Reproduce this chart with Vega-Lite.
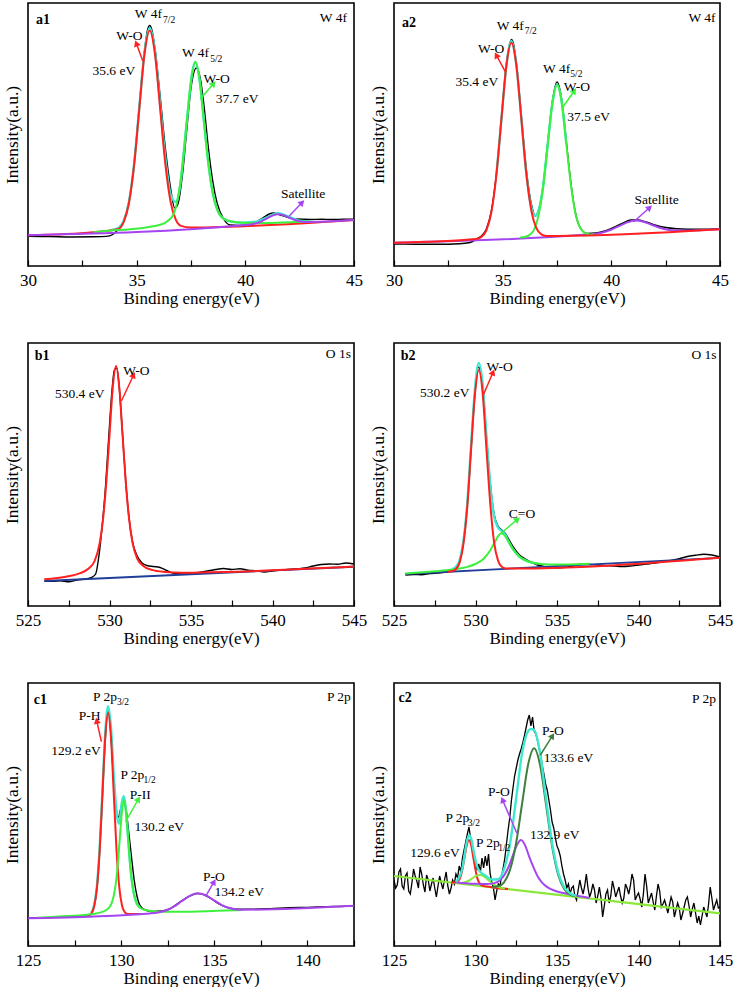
{
"$schema":"https://vega.github.io/schema/vega-lite/v6.json",
"background":"white",
"padding":{"left":2,"top":2,"right":0,"bottom":0},
"config":{
 "font":"'Liberation Serif', 'Times New Roman', Times, serif",
 "view":{"stroke":"#000000","strokeWidth":1.6},
 "axis":{"grid":false,"domain":false,"labelFont":"'Liberation Serif', 'Times New Roman', Times, serif","titleFont":"'Liberation Serif', 'Times New Roman', Times, serif","labelFontSize":17,"titleFontSize":17,"titleFontWeight":"normal","labelColor":"#000000","titleColor":"#000000","tickColor":"#000000"},
 "axisX":{"tickSize":-6,"tickWidth":1.2,"labelPadding":12,"labelFlush":false,"labelOverlap":false,"labelBound":false,"titlePadding":2},
 "axisY":{"labels":false,"ticks":false,"titlePadding":7,"titleFontSize":17.5},
 "text":{"font":"'Liberation Serif', 'Times New Roman', Times, serif","fontSize":13.5,"color":"#000000"}
},
"datasets":{
"a1k":[{"x":30,"y":29.6},{"x":31,"y":29.4},{"x":32,"y":29.0},{"x":33,"y":29.2},{"x":33.6,"y":29.6},{"x":33.9,"y":31.5},{"x":34.16,"y":37},{"x":34.4,"y":45},{"x":34.64,"y":64},{"x":34.88,"y":102},{"x":35.12,"y":160},{"x":35.36,"y":215},{"x":35.5,"y":236},{"x":35.6,"y":240.5},{"x":35.7,"y":236},{"x":35.84,"y":218},{"x":36.08,"y":170},{"x":36.32,"y":118},{"x":36.56,"y":78},{"x":36.75,"y":58},{"x":36.9,"y":62},{"x":37.1,"y":90},{"x":37.3,"y":135},{"x":37.5,"y":178},{"x":37.75,"y":198},{"x":37.95,"y":185},{"x":38.1,"y":160},{"x":38.3,"y":118},{"x":38.5,"y":85},{"x":38.7,"y":63},{"x":39.0,"y":47},{"x":39.3,"y":41},{"x":39.7,"y":40.5},{"x":40.2,"y":41},{"x":40.5,"y":44},{"x":40.8,"y":48},{"x":41.1,"y":52},{"x":41.3,"y":53},{"x":41.6,"y":51},{"x":41.9,"y":49},{"x":42.3,"y":47},{"x":43,"y":46.5},{"x":43.5,"y":46.8},{"x":44,"y":46.5},{"x":44.5,"y":46.8},{"x":45,"y":46.9}],
"a1c":[{"x":33.8,"y":35.7},{"x":34.16,"y":38.1},{"x":34.4,"y":45.0},{"x":34.64,"y":63.6},{"x":34.88,"y":101.8},{"x":35.12,"y":158.4},{"x":35.36,"y":214.0},{"x":35.6,"y":238.1},{"x":35.84,"y":215.7},{"x":36.08,"y":162.1},{"x":36.32,"y":108.1},{"x":36.56,"y":72},{"x":36.8,"y":64},{"x":37.0,"y":80},{"x":37.2,"y":121.3},{"x":37.4,"y":165.0},{"x":37.55,"y":192.8},{"x":37.7,"y":204.1},{"x":37.9,"y":185.3},{"x":38.1,"y":143.6},{"x":38.3,"y":102.3},{"x":38.5,"y":73.0},{"x":38.7,"y":56.8},{"x":39.0,"y":47.3},{"x":39.4,"y":44.3},{"x":39.9,"y":43.4},{"x":40.5,"y":44.2},{"x":41.0,"y":48.7},{"x":41.5,"y":52.7},{"x":42.0,"y":49.3},{"x":42.5,"y":45.4},{"x":43.0,"y":44.7}],
"a1r":[{"x":30,"y":30.7},{"x":33.0,"y":33.76},{"x":34.16,"y":37.1},{"x":34.4,"y":43.9},{"x":34.64,"y":62.3},{"x":34.88,"y":100.3},{"x":35.12,"y":156.6},{"x":35.36,"y":211.8},{"x":35.6,"y":235.4},{"x":35.84,"y":212.3},{"x":36.08,"y":157.6},{"x":36.32,"y":101.8},{"x":36.56,"y":64.3},{"x":36.8,"y":46.3},{"x":37.04,"y":40.1},{"x":37.5,"y":38.5},{"x":45,"y":46.0}],
"a1g":[{"x":33.0,"y":33.8},{"x":33.7,"y":35.3},{"x":34.7,"y":36.8},{"x":35.5,"y":38.8},{"x":36.0,"y":40.8},{"x":36.4,"y":44.6},{"x":36.7,"y":52},{"x":36.9,"y":68},{"x":37.1,"y":99},{"x":37.3,"y":142.8},{"x":37.5,"y":184.8},{"x":37.7,"y":204.1},{"x":37.9,"y":185.3},{"x":38.1,"y":143.6},{"x":38.3,"y":102.3},{"x":38.5,"y":73.0},{"x":38.7,"y":56.8},{"x":39.0,"y":47.3},{"x":39.4,"y":44.3},{"x":39.9,"y":43.3},{"x":40.7,"y":42.9},{"x":41.7,"y":43.4},{"x":43.0,"y":44.4}],
"a1m":[{"x":30,"y":30.7},{"x":40.0,"y":41.0},{"x":40.25,"y":41.6},{"x":40.5,"y":42.7},{"x":40.75,"y":44.7},{"x":41.0,"y":47.6},{"x":41.25,"y":50.4},{"x":41.5,"y":51.7},{"x":41.75,"y":50.9},{"x":42.0,"y":48.5},{"x":42.25,"y":46.2},{"x":42.5,"y":44.7},{"x":42.75,"y":44.1},{"x":43.0,"y":44.1},{"x":45,"y":46.0}],
"a2k":[{"x":30,"y":22.0},{"x":31,"y":21.8},{"x":32,"y":21.7},{"x":33,"y":22.2},{"x":33.5,"y":23.5},{"x":33.8,"y":27},{"x":34.02,"y":30},{"x":34.25,"y":37},{"x":34.48,"y":55},{"x":34.71,"y":92},{"x":34.94,"y":147},{"x":35.17,"y":202},{"x":35.3,"y":220},{"x":35.4,"y":226.5},{"x":35.5,"y":222},{"x":35.63,"y":203},{"x":35.86,"y":150},{"x":36.09,"y":96},{"x":36.32,"y":62},{"x":36.5,"y":50},{"x":36.64,"y":55},{"x":36.86,"y":80},{"x":37.07,"y":122},{"x":37.29,"y":165},{"x":37.5,"y":184},{"x":37.72,"y":166},{"x":37.93,"y":124},{"x":38.15,"y":81},{"x":38.36,"y":52},{"x":38.58,"y":38},{"x":38.9,"y":32.5},{"x":39.3,"y":33},{"x":39.7,"y":35},{"x":40.1,"y":38.5},{"x":40.5,"y":42.5},{"x":40.9,"y":46},{"x":41.2,"y":46},{"x":41.6,"y":44},{"x":42.0,"y":41},{"x":42.5,"y":38.5},{"x":43.0,"y":37.3},{"x":43.5,"y":36.8},{"x":44,"y":36.7},{"x":44.5,"y":36.9},{"x":45,"y":37.2}],
"a2c":[{"x":34.71,"y":91},{"x":34.94,"y":146.1},{"x":35.17,"y":200.2},{"x":35.4,"y":225},{"x":35.63,"y":201},{"x":35.86,"y":147.3},{"x":36.09,"y":92.4},{"x":36.32,"y":58.8},{"x":36.5,"y":50.4},{"x":36.64,"y":54.7},{"x":36.86,"y":79.7},{"x":37.07,"y":121},{"x":37.29,"y":163.1},{"x":37.5,"y":181.5},{"x":37.72,"y":163.5},{"x":37.93,"y":122}],
"a2r":[{"x":30,"y":23.3},{"x":33.79,"y":27.1},{"x":34.02,"y":29.1},{"x":34.25,"y":35.7},{"x":34.48,"y":53.7},{"x":34.71,"y":90.9},{"x":34.94,"y":146.1},{"x":35.17,"y":200.2},{"x":35.4,"y":223.3},{"x":35.63,"y":200.6},{"x":35.86,"y":147.0},{"x":36.09,"y":92.1},{"x":36.32,"y":55.3},{"x":36.55,"y":37.8},{"x":36.78,"y":31.6},{"x":37.01,"y":30.0},{"x":37.5,"y":30.0},{"x":45,"y":36.7}],
"a2g":[{"x":35.8,"y":28.5},{"x":36.0,"y":29.0},{"x":36.21,"y":30.6},{"x":36.43,"y":35.6},{"x":36.64,"y":49.6},{"x":36.86,"y":78.4},{"x":37.07,"y":120.7},{"x":37.29,"y":163.1},{"x":37.5,"y":181.0},{"x":37.72,"y":163.5},{"x":37.93,"y":122.0},{"x":38.15,"y":79.6},{"x":38.36,"y":51.2},{"x":38.58,"y":37.6},{"x":38.79,"y":32.9},{"x":39.0,"y":31.6},{"x":39.2,"y":31.5}],
"a2m":[{"x":30,"y":23.3},{"x":38.85,"y":31.4},{"x":39.23,"y":32.1},{"x":39.6,"y":33.5},{"x":39.98,"y":36.2},{"x":40.35,"y":39.9},{"x":40.73,"y":43.6},{"x":41.1,"y":45.4},{"x":41.48,"y":44.3},{"x":41.85,"y":41.3},{"x":42.23,"y":38.2},{"x":42.6,"y":36.2},{"x":42.98,"y":35.5},{"x":43.35,"y":35.4},{"x":45,"y":36.7}],
"b1k":[{"x":526,"y":25.0},{"x":526.5,"y":24.6},{"x":527,"y":25.3},{"x":527.5,"y":24.2},{"x":528,"y":26.0},{"x":528.5,"y":27.0},{"x":528.9,"y":28.5},{"x":529.15,"y":32},{"x":529.35,"y":50},{"x":529.55,"y":80},{"x":529.75,"y":118},{"x":529.95,"y":168},{"x":530.15,"y":215},{"x":530.3,"y":236},{"x":530.45,"y":238},{"x":530.6,"y":218},{"x":530.8,"y":172},{"x":531.0,"y":124},{"x":531.2,"y":88},{"x":531.4,"y":65},{"x":531.7,"y":50},{"x":532.0,"y":43},{"x":532.3,"y":40.5},{"x":532.7,"y":39.5},{"x":533.1,"y":38.5},{"x":533.5,"y":35.5},{"x":534.0,"y":32.5},{"x":534.5,"y":32.0},{"x":535.0,"y":32.5},{"x":535.5,"y":33.5},{"x":536.0,"y":35},{"x":536.5,"y":36.5},{"x":537.0,"y":37.5},{"x":537.5,"y":36.5},{"x":538.0,"y":37.2},{"x":538.5,"y":35.8},{"x":539.0,"y":35.2},{"x":539.5,"y":34.0},{"x":540.0,"y":35.0},{"x":540.5,"y":36.0},{"x":541.0,"y":36.5},{"x":541.5,"y":37.2},{"x":542.0,"y":38.0},{"x":542.5,"y":40.0},{"x":543.0,"y":41.5},{"x":543.5,"y":42.0},{"x":544.0,"y":41.8},{"x":544.5,"y":43.0},{"x":545.0,"y":42.0}],
"b1b":[{"x":526,"y":25.0},{"x":545,"y":39.25}],
"b1r":[{"x":526.0,"y":26.7},{"x":527.4,"y":29.5},{"x":528.2,"y":32.8},{"x":528.7,"y":37.2},{"x":529.1,"y":45.5},{"x":529.4,"y":63.0},{"x":529.6,"y":86.1},{"x":529.8,"y":122.5},{"x":530.0,"y":170.5},{"x":530.2,"y":218.3},{"x":530.4,"y":240.0},{"x":530.6,"y":218.6},{"x":530.8,"y":171.1},{"x":531.0,"y":123.4},{"x":531.2,"y":87.3},{"x":531.4,"y":64.5},{"x":531.7,"y":47.5},{"x":532.1,"y":39.8},{"x":532.6,"y":36.1},{"x":533.4,"y":34.0},{"x":534.4,"y":33.2},{"x":535.4,"y":33.4},{"x":537,"y":33.9},{"x":540,"y":35.8},{"x":543,"y":38.0},{"x":545,"y":39.4}],
"b2k":[{"x":525.7,"y":31},{"x":526.2,"y":31.5},{"x":526.7,"y":31.2},{"x":527.2,"y":32.5},{"x":527.7,"y":33},{"x":528.2,"y":34},{"x":528.6,"y":35.5},{"x":528.8,"y":38},{"x":529.03,"y":45},{"x":529.26,"y":64},{"x":529.5,"y":102},{"x":529.73,"y":158},{"x":529.97,"y":214},{"x":530.15,"y":239},{"x":530.3,"y":236},{"x":530.44,"y":220},{"x":530.67,"y":170},{"x":530.91,"y":122},{"x":531.14,"y":92},{"x":531.38,"y":80},{"x":531.61,"y":76},{"x":531.85,"y":72},{"x":532.1,"y":65},{"x":532.4,"y":57},{"x":532.7,"y":51},{"x":533.0,"y":47.5},{"x":533.4,"y":44},{"x":533.8,"y":41},{"x":534.2,"y":39.5},{"x":534.6,"y":38.5},{"x":535.0,"y":38.3},{"x":535.5,"y":38.8},{"x":536.0,"y":40.0},{"x":536.5,"y":42},{"x":537.0,"y":41.5},{"x":537.5,"y":41},{"x":538.0,"y":40.3},{"x":538.5,"y":40},{"x":539.0,"y":39.5},{"x":539.5,"y":40},{"x":540.0,"y":41},{"x":540.5,"y":42},{"x":541.0,"y":43},{"x":541.5,"y":44.3},{"x":542.0,"y":45.5},{"x":542.5,"y":47.3},{"x":543.0,"y":49.5},{"x":543.5,"y":50.7},{"x":544.0,"y":51.7},{"x":544.5,"y":51},{"x":545.0,"y":49}],
"b2c":[{"x":528.56,"y":36.8},{"x":528.79,"y":39.1},{"x":529.03,"y":46.2},{"x":529.26,"y":65.1},{"x":529.5,"y":103.8},{"x":529.73,"y":161.1},{"x":529.97,"y":217.7},{"x":530.2,"y":243.0},{"x":530.44,"y":221.9},{"x":530.67,"y":170.5},{"x":530.91,"y":120.5},{"x":531.14,"y":89.7},{"x":531.38,"y":78.5},{"x":531.61,"y":74.9},{"x":531.85,"y":70.6},{"x":532.0,"y":65.5},{"x":532.3,"y":56.8},{"x":532.7,"y":49.2},{"x":533.2,"y":44.7},{"x":533.8,"y":42.5}],
"b2b":[{"x":525.7,"y":32},{"x":545,"y":48.2}],
"b2g":[{"x":525.7,"y":32.6},{"x":527.5,"y":34.7},{"x":528.6,"y":36.5},{"x":529.4,"y":38.8},{"x":530.0,"y":42.0},{"x":530.5,"y":47.3},{"x":530.9,"y":55.5},{"x":531.2,"y":64.4},{"x":531.4,"y":70.1},{"x":531.6,"y":72.7},{"x":531.8,"y":70.4},{"x":532.0,"y":65.1},{"x":532.3,"y":56.7},{"x":532.7,"y":49.2},{"x":533.2,"y":44.7},{"x":533.8,"y":42.5},{"x":534.6,"y":41.6},{"x":535.7,"y":41.6},{"x":537.0,"y":42.2}],
"b2r":[{"x":528.3,"y":34.2},{"x":528.56,"y":34.8},{"x":528.79,"y":36.8},{"x":529.03,"y":43.6},{"x":529.26,"y":62.1},{"x":529.5,"y":100.2},{"x":529.73,"y":156.8},{"x":529.97,"y":212.3},{"x":530.2,"y":236.0},{"x":530.44,"y":212.7},{"x":530.67,"y":157.6},{"x":530.91,"y":101.4},{"x":531.14,"y":63.7},{"x":531.38,"y":45.6},{"x":531.61,"y":39.2},{"x":531.85,"y":37.6},{"x":532.2,"y":37.4},{"x":545,"y":48.2}],
"c1k":[{"x":125,"y":27.8},{"x":126,"y":28.4},{"x":127,"y":29.2},{"x":128,"y":30.0},{"x":128.3,"y":31},{"x":128.5,"y":37},{"x":128.7,"y":58},{"x":128.85,"y":96},{"x":129.0,"y":152},{"x":129.15,"y":208},{"x":129.3,"y":236},{"x":129.45,"y":212},{"x":129.6,"y":165},{"x":129.75,"y":135},{"x":129.85,"y":129},{"x":130.0,"y":139},{"x":130.1,"y":144},{"x":130.25,"y":138},{"x":130.4,"y":115},{"x":130.55,"y":90},{"x":130.7,"y":66},{"x":130.85,"y":50},{"x":131.0,"y":41},{"x":131.3,"y":36},{"x":131.7,"y":34.5},{"x":132.2,"y":35},{"x":132.6,"y":37},{"x":133.0,"y":42},{"x":133.4,"y":47},{"x":133.8,"y":51},{"x":134.1,"y":52.5},{"x":134.5,"y":51},{"x":134.9,"y":46.5},{"x":135.3,"y":41.5},{"x":135.8,"y":38},{"x":136.3,"y":36.8},{"x":137,"y":36.8},{"x":138,"y":37.3},{"x":139,"y":38.2},{"x":140,"y":38.6},{"x":141,"y":39.3},{"x":142,"y":39.8},{"x":142.5,"y":40.2}],
"c1c":[{"x":128.4,"y":33.9},{"x":128.55,"y":41.1},{"x":128.7,"y":60.1},{"x":128.85,"y":99.3},{"x":129.0,"y":157.1},{"x":129.15,"y":214.1},{"x":129.3,"y":239.9},{"x":129.45,"y":219.8},{"x":129.6,"y":172.5},{"x":129.75,"y":134.3},{"x":129.88,"y":122},{"x":130.05,"y":144.8},{"x":130.15,"y":149.7},{"x":130.25,"y":137.6},{"x":130.35,"y":113.8},{"x":130.45,"y":88.9},{"x":130.55,"y":69.1},{"x":130.65,"y":55.4},{"x":130.8,"y":44.2},{"x":131.0,"y":38.6}],
"c1r":[{"x":127.8,"y":29.7},{"x":128.25,"y":30.5},{"x":128.4,"y":32.4},{"x":128.55,"y":39.2},{"x":128.7,"y":57.8},{"x":128.85,"y":96.3},{"x":129.0,"y":153.4},{"x":129.15,"y":209.4},{"x":129.3,"y":233.3},{"x":129.45,"y":209.6},{"x":129.6,"y":153.8},{"x":129.75,"y":96.9},{"x":129.9,"y":58.6},{"x":130.05,"y":40.2},{"x":130.2,"y":33.6},{"x":130.35,"y":32.0},{"x":131.0,"y":32.0}],
"c1g":[{"x":125.5,"y":28.3},{"x":127.15,"y":29.9},{"x":128.35,"y":31.7},{"x":128.95,"y":33.9},{"x":129.3,"y":37.4},{"x":129.5,"y":43.2},{"x":129.65,"y":54.6},{"x":129.75,"y":68.5},{"x":129.85,"y":88.5},{"x":129.95,"y":113.1},{"x":130.05,"y":135.9},{"x":130.15,"y":146.0},{"x":130.25,"y":136.1},{"x":130.35,"y":113.4},{"x":130.45,"y":88.9},{"x":130.55,"y":69.1},{"x":130.65,"y":55.4},{"x":130.8,"y":44.2},{"x":131.0,"y":38.6},{"x":131.35,"y":35.7},{"x":131.95,"y":34.3},{"x":133.15,"y":34.2},{"x":135.15,"y":35.2},{"x":136.5,"y":36.0}],
"c1m":[{"x":125,"y":27.7},{"x":131.55,"y":32.6},{"x":131.98,"y":33.5},{"x":132.4,"y":35.5},{"x":132.83,"y":39.3},{"x":133.25,"y":44.8},{"x":133.68,"y":50.1},{"x":134.1,"y":52.7},{"x":134.53,"y":50.8},{"x":134.95,"y":46.1},{"x":135.38,"y":41.2},{"x":135.8,"y":38.0},{"x":136.23,"y":36.6},{"x":136.65,"y":36.3},{"x":142.5,"y":40.3}],
"c2k":[{"x":125.0,"y":66},{"x":125.1,"y":58},{"x":125.2,"y":61},{"x":125.3,"y":74},{"x":125.4,"y":77},{"x":125.5,"y":60},{"x":125.6,"y":57},{"x":125.7,"y":70},{"x":125.8,"y":73},{"x":125.9,"y":55},{"x":126.0,"y":52},{"x":126.1,"y":63},{"x":126.2,"y":77},{"x":126.3,"y":70},{"x":126.4,"y":65},{"x":126.5,"y":58},{"x":126.6,"y":79},{"x":126.7,"y":72},{"x":126.8,"y":61},{"x":126.9,"y":54},{"x":127.0,"y":71},{"x":127.1,"y":66},{"x":127.2,"y":55},{"x":127.3,"y":62},{"x":127.4,"y":68},{"x":127.5,"y":58},{"x":127.6,"y":49},{"x":127.7,"y":60},{"x":127.8,"y":70},{"x":127.9,"y":63},{"x":128.0,"y":57},{"x":128.1,"y":66},{"x":128.2,"y":74},{"x":128.3,"y":60},{"x":128.4,"y":52},{"x":128.5,"y":58},{"x":128.6,"y":66},{"x":128.7,"y":62},{"x":128.8,"y":72},{"x":128.9,"y":68},{"x":129.0,"y":80},{"x":129.1,"y":74},{"x":129.2,"y":88},{"x":129.3,"y":96},{"x":129.4,"y":104},{"x":129.5,"y":112},{"x":129.6,"y":119},{"x":129.7,"y":108},{"x":129.8,"y":100},{"x":129.9,"y":92},{"x":130.0,"y":84},{"x":130.1,"y":76},{"x":130.2,"y":82},{"x":130.3,"y":74},{"x":130.4,"y":88},{"x":130.5,"y":78},{"x":130.6,"y":90},{"x":130.7,"y":80},{"x":130.8,"y":92},{"x":130.9,"y":72},{"x":131.0,"y":64},{"x":131.1,"y":58},{"x":131.2,"y":46},{"x":131.3,"y":55},{"x":131.4,"y":62},{"x":131.5,"y":60},{"x":131.6,"y":70},{"x":131.7,"y":78},{"x":131.8,"y":88},{"x":131.9,"y":102},{"x":132.0,"y":116},{"x":132.1,"y":128},{"x":132.2,"y":145},{"x":132.3,"y":158},{"x":132.4,"y":170},{"x":132.5,"y":178},{"x":132.6,"y":186},{"x":132.7,"y":192},{"x":132.8,"y":197},{"x":132.9,"y":203},{"x":133.0,"y":210},{"x":133.1,"y":218},{"x":133.2,"y":226},{"x":133.3,"y":231},{"x":133.4,"y":220},{"x":133.5,"y":229},{"x":133.6,"y":215},{"x":133.7,"y":212},{"x":133.8,"y":206},{"x":133.9,"y":198},{"x":134.0,"y":190},{"x":134.1,"y":180},{"x":134.2,"y":172},{"x":134.3,"y":162},{"x":134.4,"y":156},{"x":134.5,"y":146},{"x":134.6,"y":136},{"x":134.7,"y":124},{"x":134.8,"y":118},{"x":134.9,"y":108},{"x":135.0,"y":100},{"x":135.1,"y":96},{"x":135.2,"y":90},{"x":135.3,"y":80},{"x":135.4,"y":72},{"x":135.5,"y":66},{"x":135.6,"y":58},{"x":135.7,"y":62},{"x":135.8,"y":52},{"x":135.9,"y":58},{"x":136.0,"y":60},{"x":136.1,"y":50},{"x":136.2,"y":46},{"x":136.3,"y":56},{"x":136.4,"y":66},{"x":136.5,"y":58},{"x":136.6,"y":52},{"x":136.7,"y":60},{"x":136.8,"y":72},{"x":136.9,"y":58},{"x":137.0,"y":49},{"x":137.1,"y":54},{"x":137.2,"y":62},{"x":137.3,"y":56},{"x":137.4,"y":43},{"x":137.5,"y":50},{"x":137.6,"y":59},{"x":137.7,"y":48},{"x":137.8,"y":29},{"x":137.9,"y":40},{"x":138.0,"y":52},{"x":138.1,"y":56},{"x":138.2,"y":43},{"x":138.3,"y":50},{"x":138.4,"y":65},{"x":138.5,"y":58},{"x":138.6,"y":49},{"x":138.7,"y":54},{"x":138.8,"y":59},{"x":138.9,"y":50},{"x":139.0,"y":43},{"x":139.1,"y":48},{"x":139.2,"y":62},{"x":139.3,"y":58},{"x":139.4,"y":52},{"x":139.5,"y":60},{"x":139.6,"y":72},{"x":139.7,"y":66},{"x":139.8,"y":46},{"x":139.9,"y":50},{"x":140.0,"y":53},{"x":140.1,"y":47},{"x":140.2,"y":39},{"x":140.3,"y":52},{"x":140.4,"y":72},{"x":140.5,"y":60},{"x":140.6,"y":43},{"x":140.7,"y":48},{"x":140.8,"y":53},{"x":140.9,"y":44},{"x":141.0,"y":36},{"x":141.1,"y":50},{"x":141.2,"y":62},{"x":141.3,"y":55},{"x":141.4,"y":39},{"x":141.5,"y":42},{"x":141.6,"y":46},{"x":141.7,"y":40},{"x":141.8,"y":33},{"x":141.9,"y":41},{"x":142.0,"y":49},{"x":142.1,"y":44},{"x":142.2,"y":29},{"x":142.3,"y":36},{"x":142.4,"y":43},{"x":142.5,"y":38},{"x":142.6,"y":26},{"x":142.7,"y":32},{"x":142.8,"y":39},{"x":142.9,"y":46},{"x":143.0,"y":49},{"x":143.1,"y":40},{"x":143.2,"y":29},{"x":143.3,"y":37},{"x":143.4,"y":43},{"x":143.5,"y":33},{"x":143.6,"y":23},{"x":143.7,"y":30},{"x":143.8,"y":21},{"x":143.9,"y":30},{"x":144.0,"y":39},{"x":144.1,"y":34},{"x":144.2,"y":29},{"x":144.3,"y":42},{"x":144.4,"y":59},{"x":144.5,"y":48},{"x":144.6,"y":36},{"x":144.7,"y":41},{"x":144.8,"y":46},{"x":144.9,"y":38},{"x":145.0,"y":39}],
"c2bg":[{"x":125,"y":70},{"x":145,"y":32.7}],
"c2r":[{"x":128.5,"y":63.5},{"x":128.79,"y":63.4},{"x":128.93,"y":64.7},{"x":129.06,"y":68.4},{"x":129.2,"y":76.7},{"x":129.33,"y":88.9},{"x":129.47,"y":101.1},{"x":129.6,"y":106.0},{"x":129.74,"y":100.5},{"x":129.87,"y":87.9},{"x":130.01,"y":75.2},{"x":130.14,"y":66.4},{"x":130.28,"y":62.1},{"x":130.41,"y":60.4},{"x":131.0,"y":58.8},{"x":132.0,"y":56.9}],
"c2g":[{"x":128.8,"y":63.0},{"x":129.05,"y":62.9},{"x":129.3,"y":63.5},{"x":129.55,"y":65.0},{"x":129.8,"y":67.6},{"x":130.05,"y":70.2},{"x":130.3,"y":71.0},{"x":130.55,"y":69.2},{"x":130.8,"y":65.8},{"x":131.05,"y":62.2},{"x":131.3,"y":59.7},{"x":131.55,"y":58.2},{"x":131.8,"y":57.4}],
"c2m":[{"x":128.8,"y":63.5},{"x":129.0,"y":63.3},{"x":130.0,"y":62.2},{"x":130.64,"y":61.9},{"x":131.15,"y":62.9},{"x":131.53,"y":66.3},{"x":131.78,"y":71.3},{"x":132.04,"y":79.5},{"x":132.29,"y":90.5},{"x":132.55,"y":101.3},{"x":132.8,"y":106.0},{"x":133.05,"y":100.4},{"x":133.31,"y":88.6},{"x":133.56,"y":78.6},{"x":133.82,"y":69.5},{"x":134.07,"y":63.6},{"x":134.45,"y":58.3},{"x":134.96,"y":54.8},{"x":135.6,"y":52.2},{"x":136.6,"y":49.2},{"x":137.0,"y":48.1}],
"c2d":[{"x":131.01,"y":59.1},{"x":131.38,"y":59.7},{"x":131.75,"y":63.7},{"x":132.12,"y":76.2},{"x":132.49,"y":102.7},{"x":132.86,"y":142.5},{"x":133.23,"y":181.5},{"x":133.6,"y":197.7},{"x":133.97,"y":180.2},{"x":134.34,"y":139.8},{"x":134.71,"y":98.6},{"x":135.08,"y":70.7},{"x":135.45,"y":56.8},{"x":135.82,"y":51.4},{"x":136.19,"y":49.4}],
"c2c":[{"x":128.8,"y":64.1},{"x":129.2,"y":78.3},{"x":129.47,"y":104.5},{"x":129.6,"y":110.8},{"x":129.74,"y":107.2},{"x":129.87,"y":96.3},{"x":130.01,"y":85.3},{"x":130.14,"y":77.8},{"x":130.3,"y":74.1},{"x":130.6,"y":70.4},{"x":131.0,"y":66.5},{"x":131.38,"y":66.7},{"x":131.75,"y":76.9},{"x":132.12,"y":102.2},{"x":132.49,"y":147.2},{"x":132.86,"y":192.9},{"x":133.23,"y":215},{"x":133.4,"y":217},{"x":133.6,"y":216},{"x":133.97,"y":192.2},{"x":134.34,"y":145.8},{"x":134.71,"y":102.1},{"x":135.08,"y":73.3},{"x":135.45,"y":58.7},{"x":135.82,"y":52.6},{"x":136.19,"y":50.2}],
"labels":[
{"p":"a1","x":44.05,"y":248.3,"t":"W 4f"},{"p":"a1","x":35.54,"y":251.7,"t":"W 4f"},{"p":"a1","x":34.66,"y":230,"t":"W-O"},{"p":"a1","x":33.95,"y":195,"t":"35.6 eV"},{"p":"a1","x":37.71,"y":213.3,"t":"W 4f"},{"p":"a1","x":38.68,"y":186.7,"t":"W-O"},{"p":"a1","x":39.62,"y":166.7,"t":"37.7 eV"},{"p":"a1","x":42.66,"y":71.7,"t":"Satellite"},
{"p":"a2","x":44.17,"y":247.7,"t":"W 4f"},{"p":"a2","x":35.35,"y":240,"t":"W 4f"},{"p":"a2","x":34.47,"y":216.7,"t":"W-O"},{"p":"a2","x":33.81,"y":184.3,"t":"35.4 eV"},{"p":"a2","x":37.48,"y":196.7,"t":"W 4f"},{"p":"a2","x":38.41,"y":178.7,"t":"W-O"},{"p":"a2","x":38.96,"y":149.3,"t":"37.5 eV"},{"p":"a2","x":42.08,"y":66,"t":"Satellite"},
{"p":"b1","x":544.04,"y":251.7,"t":"O 1s"},{"p":"b1","x":531.65,"y":235,"t":"W-O"},{"p":"b1","x":528.17,"y":211.7,"t":"530.4 eV"},
{"p":"b2","x":544.02,"y":251,"t":"O 1s"},{"p":"b2","x":531.48,"y":239.3,"t":"W-O"},{"p":"b2","x":528.11,"y":212.7,"t":"530.2 eV"},{"p":"b2","x":532.85,"y":91.7,"t":"C=O"},
{"p":"c1","x":141.69,"y":249.3,"t":"P 2p"},{"p":"c1","x":129.13,"y":249.3,"t":"P 2p"},{"p":"c1","x":128.31,"y":230,"t":"P-H"},{"p":"c1","x":127.58,"y":195.3,"t":"129.2 eV"},{"p":"c1","x":130.6,"y":171,"t":"P 2p"},{"p":"c1","x":131.03,"y":151,"t":"P-II"},{"p":"c1","x":132.05,"y":118.7,"t":"130.2 eV"},{"p":"c1","x":134.98,"y":69.3,"t":"P-O"},{"p":"c1","x":136.34,"y":53.7,"t":"134.2 eV"},
{"p":"c2","x":144.02,"y":246.7,"t":"P 2p"},{"p":"c2","x":134.75,"y":215.3,"t":"P-O"},{"p":"c2","x":135.7,"y":187.7,"t":"133.6 eV"},{"p":"c2","x":131.43,"y":154.3,"t":"P-O"},{"p":"c2","x":134.86,"y":111,"t":"132.9 eV"},{"p":"c2","x":128.89,"y":127.7,"t":"P 2p"},{"p":"c2","x":127.52,"y":92.7,"t":"129.6 eV"},{"p":"c2","x":130.76,"y":102.7,"t":"P 2p"}],
"subs":[
{"p":"a1","x":36.49,"y":246,"t":"7/2"},{"p":"a1","x":38.66,"y":207.5,"t":"5/2"},
{"p":"a2","x":36.29,"y":235,"t":"7/2"},{"p":"a2","x":38.39,"y":192,"t":"5/2"},
{"p":"c1","x":130.1,"y":244.3,"t":"3/2"},{"p":"c1","x":131.53,"y":166,"t":"1/2"},
{"p":"c2","x":129.9,"y":122.7,"t":"3/2"},{"p":"c2","x":131.76,"y":97.7,"t":"1/2"}],
"ids":[{"p":"a1","x":30.69,"y":246,"t":"a1"},{"p":"a2","x":30.69,"y":243.3,"t":"a2"},{"p":"b1","x":525.86,"y":250,"t":"b1"},{"p":"b2","x":525.86,"y":250,"t":"b2"},{"p":"c1","x":125.66,"y":246,"t":"c1"},{"p":"c2","x":125.68,"y":247.7,"t":"c2"}],
"arrows":[
{"p":"a1","x":35.0,"y":221.7,"x2":35.28,"y2":205,"a":-20,"c":"r"},{"p":"a1","x":38.51,"y":181.7,"x2":37.92,"y2":166.7,"a":40,"c":"g"},{"p":"a1","x":42.58,"y":62.7,"x2":42.02,"y2":50,"a":44,"c":"m"},
{"p":"a2","x":34.73,"y":210,"x2":35.12,"y2":194.3,"a":-28,"c":"r"},{"p":"a2","x":38.27,"y":174.3,"x2":37.78,"y2":159.3,"a":35,"c":"g"},{"p":"a2","x":41.73,"y":57.7,"x2":41.03,"y2":44.3,"a":48,"c":"m"},
{"p":"b1","x":531.45,"y":230,"x2":530.73,"y2":205,"a":25,"c":"r"},
{"p":"b2","x":531.05,"y":232.7,"x2":530.48,"y2":211,"a":23,"c":"r"},{"p":"b2","x":532.53,"y":86,"x2":531.56,"y2":72.7,"a":50,"c":"g"},
{"p":"c1","x":128.7,"y":224.3,"x2":128.94,"y2":204.3,"a":-12,"c":"r"},{"p":"c1","x":130.9,"y":146,"x2":130.24,"y2":124.3,"a":30,"c":"g"},{"p":"c1","x":134.96,"y":63.3,"x2":134.53,"y2":49.3,"a":30,"c":"m"},
{"p":"c2","x":134.69,"y":209.3,"x2":133.98,"y2":191,"a":32,"c":"d"},{"p":"c2","x":131.68,"y":145.3,"x2":132.54,"y2":112.7,"a":-23,"c":"m"}]
},
"columns":2,
"bounds":"flush",
"spacing":{"row":77,"column":40},
"concat":[
{"width":326,"height":263,
 "encoding":{"x":{"field":"x","type":"quantitative","scale":{"domain":[30,45],"nice":false,"zero":false},"axis":{"title":"Binding energy(eV)","values":[30,32.5,35,37.5,40,42.5,45],"labelExpr":"datum.value % 5 == 0 ? datum.label : ''","encode":{"ticks":{"update":{"y2":{"signal":"datum.value % 5 == 0 ? -6 : -4"}}}}}},
  "y":{"field":"y","type":"quantitative","scale":{"domain":[0,263],"nice":false,"zero":false},"axis":{"title":"Intensity(a.u.)"}}},
 "layer":[
  {"data":{"name":"a1k"},"mark":{"type":"line","color":"#000000","strokeWidth":1.4,"interpolate":"monotone","clip":true},"encoding":{}},
  {"data":{"name":"a1c"},"mark":{"type":"line","color":"#3ee8d0","strokeWidth":2.4,"interpolate":"monotone","clip":true},"encoding":{}},
  {"data":{"name":"a1r"},"mark":{"type":"line","color":"#ff2020","strokeWidth":2,"interpolate":"monotone","clip":true},"encoding":{}},
  {"data":{"name":"a1g"},"mark":{"type":"line","color":"#3cf03c","strokeWidth":2,"interpolate":"monotone","clip":true},"encoding":{}},
  {"data":{"name":"a1m"},"mark":{"type":"line","color":"#a545f0","strokeWidth":2,"interpolate":"monotone","clip":true},"encoding":{}},
  {"data":{"name":"arrows"},"transform":[{"filter":"datum.p=='a1'"}],"mark":{"type":"rule","strokeWidth":1.5},"encoding":{"x2":{"field":"x2"},"y2":{"field":"y2"},"color":{"field":"c","type":"nominal","scale":{"domain":["r","g","m","d"],"range":["#ff2020","#3cf03c","#a545f0","#3f7f3f"]},"legend":null}}},
  {"data":{"name":"arrows"},"transform":[{"filter":"datum.p=='a1'"}],"mark":{"type":"point","shape":"triangle","filled":true,"size":50,"opacity":1},"encoding":{"angle":{"field":"a","type":"quantitative","scale":null},"color":{"field":"c","type":"nominal","scale":{"domain":["r","g","m","d"],"range":["#ff2020","#3cf03c","#a545f0","#3f7f3f"]},"legend":null}}},
  {"data":{"name":"labels"},"transform":[{"filter":"datum.p=='a1'"}],"mark":{"type":"text","fontSize":13.5},"encoding":{"text":{"field":"t","type":"nominal"}}},
  {"data":{"name":"subs"},"transform":[{"filter":"datum.p=='a1'"}],"mark":{"type":"text","fontSize":9.5},"encoding":{"text":{"field":"t","type":"nominal"}}},
  {"data":{"name":"ids"},"transform":[{"filter":"datum.p=='a1'"}],"mark":{"type":"text","fontSize":14,"fontWeight":"bold"},"encoding":{"text":{"field":"t","type":"nominal"}}}
 ]},
{"width":326,"height":263,
 "encoding":{"x":{"field":"x","type":"quantitative","scale":{"domain":[30,45],"nice":false,"zero":false},"axis":{"title":"Binding energy(eV)","values":[30,32.5,35,37.5,40,42.5,45],"labelExpr":"datum.value % 5 == 0 ? datum.label : ''","encode":{"ticks":{"update":{"y2":{"signal":"datum.value % 5 == 0 ? -6 : -4"}}}}}},
  "y":{"field":"y","type":"quantitative","scale":{"domain":[0,263],"nice":false,"zero":false},"axis":{"title":"Intensity(a.u.)"}}},
 "layer":[
  {"data":{"name":"a2k"},"mark":{"type":"line","color":"#000000","strokeWidth":1.4,"interpolate":"monotone","clip":true},"encoding":{}},
  {"data":{"name":"a2c"},"mark":{"type":"line","color":"#3ee8d0","strokeWidth":2.4,"interpolate":"monotone","clip":true},"encoding":{}},
  {"data":{"name":"a2m"},"mark":{"type":"line","color":"#a545f0","strokeWidth":2,"interpolate":"monotone","clip":true},"encoding":{}},
  {"data":{"name":"a2g"},"mark":{"type":"line","color":"#3cf03c","strokeWidth":2,"interpolate":"monotone","clip":true},"encoding":{}},
  {"data":{"name":"a2r"},"mark":{"type":"line","color":"#ff2020","strokeWidth":2,"interpolate":"monotone","clip":true},"encoding":{}},
  {"data":{"name":"arrows"},"transform":[{"filter":"datum.p=='a2'"}],"mark":{"type":"rule","strokeWidth":1.5},"encoding":{"x2":{"field":"x2"},"y2":{"field":"y2"},"color":{"field":"c","type":"nominal","scale":{"domain":["r","g","m","d"],"range":["#ff2020","#3cf03c","#a545f0","#3f7f3f"]},"legend":null}}},
  {"data":{"name":"arrows"},"transform":[{"filter":"datum.p=='a2'"}],"mark":{"type":"point","shape":"triangle","filled":true,"size":50,"opacity":1},"encoding":{"angle":{"field":"a","type":"quantitative","scale":null},"color":{"field":"c","type":"nominal","scale":{"domain":["r","g","m","d"],"range":["#ff2020","#3cf03c","#a545f0","#3f7f3f"]},"legend":null}}},
  {"data":{"name":"labels"},"transform":[{"filter":"datum.p=='a2'"}],"mark":{"type":"text","fontSize":13.5},"encoding":{"text":{"field":"t","type":"nominal"}}},
  {"data":{"name":"subs"},"transform":[{"filter":"datum.p=='a2'"}],"mark":{"type":"text","fontSize":9.5},"encoding":{"text":{"field":"t","type":"nominal"}}},
  {"data":{"name":"ids"},"transform":[{"filter":"datum.p=='a2'"}],"mark":{"type":"text","fontSize":14,"fontWeight":"bold"},"encoding":{"text":{"field":"t","type":"nominal"}}}
 ]},
{"width":326,"height":263,
 "encoding":{"x":{"field":"x","type":"quantitative","scale":{"domain":[525,545],"nice":false,"zero":false},"axis":{"title":"Binding energy(eV)","values":[525,527.5,530,532.5,535,537.5,540,542.5,545],"labelExpr":"datum.value % 5 == 0 ? datum.label : ''","encode":{"ticks":{"update":{"y2":{"signal":"datum.value % 5 == 0 ? -6 : -4"}}}}}},
  "y":{"field":"y","type":"quantitative","scale":{"domain":[0,263],"nice":false,"zero":false},"axis":{"title":"Intensity(a.u.)"}}},
 "layer":[
  {"data":{"name":"b1k"},"mark":{"type":"line","color":"#000000","strokeWidth":1.4,"interpolate":"monotone","clip":true},"encoding":{}},
  {"data":{"name":"b1b"},"mark":{"type":"line","color":"#1f3d99","strokeWidth":1.8,"clip":true},"encoding":{}},
  {"data":{"name":"b1r"},"mark":{"type":"line","color":"#ff2020","strokeWidth":2,"interpolate":"monotone","clip":true},"encoding":{}},
  {"data":{"name":"arrows"},"transform":[{"filter":"datum.p=='b1'"}],"mark":{"type":"rule","strokeWidth":1.5},"encoding":{"x2":{"field":"x2"},"y2":{"field":"y2"},"color":{"field":"c","type":"nominal","scale":{"domain":["r","g","m","d"],"range":["#ff2020","#3cf03c","#a545f0","#3f7f3f"]},"legend":null}}},
  {"data":{"name":"arrows"},"transform":[{"filter":"datum.p=='b1'"}],"mark":{"type":"point","shape":"triangle","filled":true,"size":50,"opacity":1},"encoding":{"angle":{"field":"a","type":"quantitative","scale":null},"color":{"field":"c","type":"nominal","scale":{"domain":["r","g","m","d"],"range":["#ff2020","#3cf03c","#a545f0","#3f7f3f"]},"legend":null}}},
  {"data":{"name":"labels"},"transform":[{"filter":"datum.p=='b1'"}],"mark":{"type":"text","fontSize":13.5},"encoding":{"text":{"field":"t","type":"nominal"}}},
  {"data":{"name":"ids"},"transform":[{"filter":"datum.p=='b1'"}],"mark":{"type":"text","fontSize":14,"fontWeight":"bold"},"encoding":{"text":{"field":"t","type":"nominal"}}}
 ]},
{"width":326,"height":263,
 "encoding":{"x":{"field":"x","type":"quantitative","scale":{"domain":[525,545],"nice":false,"zero":false},"axis":{"title":"Binding energy(eV)","values":[525,527.5,530,532.5,535,537.5,540,542.5,545],"labelExpr":"datum.value % 5 == 0 ? datum.label : ''","encode":{"ticks":{"update":{"y2":{"signal":"datum.value % 5 == 0 ? -6 : -4"}}}}}},
  "y":{"field":"y","type":"quantitative","scale":{"domain":[0,263],"nice":false,"zero":false},"axis":{"title":"Intensity(a.u.)"}}},
 "layer":[
  {"data":{"name":"b2k"},"mark":{"type":"line","color":"#000000","strokeWidth":1.4,"interpolate":"monotone","clip":true},"encoding":{}},
  {"data":{"name":"b2c"},"mark":{"type":"line","color":"#3ee8d0","strokeWidth":2.4,"interpolate":"monotone","clip":true},"encoding":{}},
  {"data":{"name":"b2b"},"mark":{"type":"line","color":"#1f3d99","strokeWidth":1.8,"clip":true},"encoding":{}},
  {"data":{"name":"b2g"},"mark":{"type":"line","color":"#3cf03c","strokeWidth":2,"interpolate":"monotone","clip":true},"encoding":{}},
  {"data":{"name":"b2r"},"mark":{"type":"line","color":"#ff2020","strokeWidth":2,"interpolate":"monotone","clip":true},"encoding":{}},
  {"data":{"name":"arrows"},"transform":[{"filter":"datum.p=='b2'"}],"mark":{"type":"rule","strokeWidth":1.5},"encoding":{"x2":{"field":"x2"},"y2":{"field":"y2"},"color":{"field":"c","type":"nominal","scale":{"domain":["r","g","m","d"],"range":["#ff2020","#3cf03c","#a545f0","#3f7f3f"]},"legend":null}}},
  {"data":{"name":"arrows"},"transform":[{"filter":"datum.p=='b2'"}],"mark":{"type":"point","shape":"triangle","filled":true,"size":50,"opacity":1},"encoding":{"angle":{"field":"a","type":"quantitative","scale":null},"color":{"field":"c","type":"nominal","scale":{"domain":["r","g","m","d"],"range":["#ff2020","#3cf03c","#a545f0","#3f7f3f"]},"legend":null}}},
  {"data":{"name":"labels"},"transform":[{"filter":"datum.p=='b2'"}],"mark":{"type":"text","fontSize":13.5},"encoding":{"text":{"field":"t","type":"nominal"}}},
  {"data":{"name":"ids"},"transform":[{"filter":"datum.p=='b2'"}],"mark":{"type":"text","fontSize":14,"fontWeight":"bold"},"encoding":{"text":{"field":"t","type":"nominal"}}}
 ]},
{"width":326,"height":263,
 "encoding":{"x":{"field":"x","type":"quantitative","scale":{"domain":[125,142.5],"nice":false,"zero":false},"axis":{"title":"Binding energy(eV)","values":[125,127.5,130,132.5,135,137.5,140,142.5],"labelExpr":"datum.value % 5 == 0 ? datum.label : ''","encode":{"ticks":{"update":{"y2":{"signal":"datum.value % 5 == 0 ? -6 : -4"}}}}}},
  "y":{"field":"y","type":"quantitative","scale":{"domain":[0,263],"nice":false,"zero":false},"axis":{"title":"Intensity(a.u.)"}}},
 "layer":[
  {"data":{"name":"c1k"},"mark":{"type":"line","color":"#000000","strokeWidth":1.4,"interpolate":"monotone","clip":true},"encoding":{}},
  {"data":{"name":"c1c"},"mark":{"type":"line","color":"#3ee8d0","strokeWidth":2.4,"interpolate":"monotone","clip":true},"encoding":{}},
  {"data":{"name":"c1r"},"mark":{"type":"line","color":"#ff2020","strokeWidth":2,"interpolate":"monotone","clip":true},"encoding":{}},
  {"data":{"name":"c1g"},"mark":{"type":"line","color":"#3cf03c","strokeWidth":2,"interpolate":"monotone","clip":true},"encoding":{}},
  {"data":{"name":"c1m"},"mark":{"type":"line","color":"#a545f0","strokeWidth":2,"interpolate":"monotone","clip":true},"encoding":{}},
  {"data":{"name":"arrows"},"transform":[{"filter":"datum.p=='c1'"}],"mark":{"type":"rule","strokeWidth":1.5},"encoding":{"x2":{"field":"x2"},"y2":{"field":"y2"},"color":{"field":"c","type":"nominal","scale":{"domain":["r","g","m","d"],"range":["#ff2020","#3cf03c","#a545f0","#3f7f3f"]},"legend":null}}},
  {"data":{"name":"arrows"},"transform":[{"filter":"datum.p=='c1'"}],"mark":{"type":"point","shape":"triangle","filled":true,"size":50,"opacity":1},"encoding":{"angle":{"field":"a","type":"quantitative","scale":null},"color":{"field":"c","type":"nominal","scale":{"domain":["r","g","m","d"],"range":["#ff2020","#3cf03c","#a545f0","#3f7f3f"]},"legend":null}}},
  {"data":{"name":"labels"},"transform":[{"filter":"datum.p=='c1'"}],"mark":{"type":"text","fontSize":13.5},"encoding":{"text":{"field":"t","type":"nominal"}}},
  {"data":{"name":"subs"},"transform":[{"filter":"datum.p=='c1'"}],"mark":{"type":"text","fontSize":9.5},"encoding":{"text":{"field":"t","type":"nominal"}}},
  {"data":{"name":"ids"},"transform":[{"filter":"datum.p=='c1'"}],"mark":{"type":"text","fontSize":14,"fontWeight":"bold"},"encoding":{"text":{"field":"t","type":"nominal"}}}
 ]},
{"width":326,"height":263,
 "encoding":{"x":{"field":"x","type":"quantitative","scale":{"domain":[125,145],"nice":false,"zero":false},"axis":{"title":"Binding energy(eV)","values":[125,127.5,130,132.5,135,137.5,140,142.5,145],"labelExpr":"datum.value % 5 == 0 ? datum.label : ''","encode":{"ticks":{"update":{"y2":{"signal":"datum.value % 5 == 0 ? -6 : -4"}}}}}},
  "y":{"field":"y","type":"quantitative","scale":{"domain":[0,263],"nice":false,"zero":false},"axis":{"title":"Intensity(a.u.)"}}},
 "layer":[
  {"data":{"name":"c2k"},"mark":{"type":"line","color":"#000000","strokeWidth":1.3,"clip":true},"encoding":{}},
  {"data":{"name":"c2bg"},"mark":{"type":"line","color":"#8ae83a","strokeWidth":2.2,"clip":true},"encoding":{}},
  {"data":{"name":"c2r"},"mark":{"type":"line","color":"#ff2020","strokeWidth":2,"interpolate":"monotone","clip":true},"encoding":{}},
  {"data":{"name":"c2g"},"mark":{"type":"line","color":"#8ae83a","strokeWidth":2,"interpolate":"monotone","clip":true},"encoding":{}},
  {"data":{"name":"c2m"},"mark":{"type":"line","color":"#a545f0","strokeWidth":2,"interpolate":"monotone","clip":true},"encoding":{}},
  {"data":{"name":"c2d"},"mark":{"type":"line","color":"#3f7f3f","strokeWidth":2,"interpolate":"monotone","clip":true},"encoding":{}},
  {"data":{"name":"c2c"},"mark":{"type":"line","color":"#3ee8d0","strokeWidth":2.4,"interpolate":"monotone","clip":true},"encoding":{}},
  {"data":{"name":"arrows"},"transform":[{"filter":"datum.p=='c2'"}],"mark":{"type":"rule","strokeWidth":1.5},"encoding":{"x2":{"field":"x2"},"y2":{"field":"y2"},"color":{"field":"c","type":"nominal","scale":{"domain":["r","g","m","d"],"range":["#ff2020","#3cf03c","#a545f0","#3f7f3f"]},"legend":null}}},
  {"data":{"name":"arrows"},"transform":[{"filter":"datum.p=='c2'"}],"mark":{"type":"point","shape":"triangle","filled":true,"size":50,"opacity":1},"encoding":{"angle":{"field":"a","type":"quantitative","scale":null},"color":{"field":"c","type":"nominal","scale":{"domain":["r","g","m","d"],"range":["#ff2020","#3cf03c","#a545f0","#3f7f3f"]},"legend":null}}},
  {"data":{"name":"labels"},"transform":[{"filter":"datum.p=='c2'"}],"mark":{"type":"text","fontSize":13.5},"encoding":{"text":{"field":"t","type":"nominal"}}},
  {"data":{"name":"subs"},"transform":[{"filter":"datum.p=='c2'"}],"mark":{"type":"text","fontSize":9.5},"encoding":{"text":{"field":"t","type":"nominal"}}},
  {"data":{"name":"ids"},"transform":[{"filter":"datum.p=='c2'"}],"mark":{"type":"text","fontSize":14,"fontWeight":"bold"},"encoding":{"text":{"field":"t","type":"nominal"}}}
 ]}
]
}
